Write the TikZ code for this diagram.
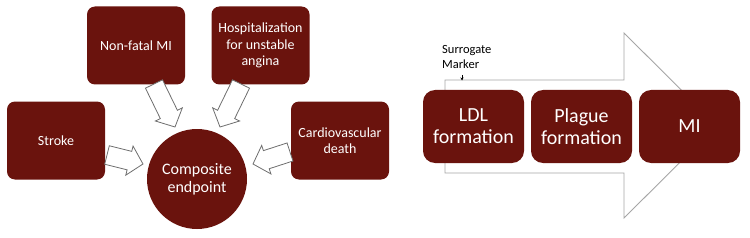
\documentclass[tikz,border=0pt]{standalone}
\usepackage{fontspec}
\setmainfont{Carlito}
\usetikzlibrary{calc,arrows.meta}
\definecolor{boxred}{HTML}{6A130D}
\definecolor{arrgray}{HTML}{6E6E6E}
\definecolor{biggray}{HTML}{A6A6A6}
\tikzset{
  lbox/.style={fill=boxred, rounded corners=8pt, minimum width=98pt, minimum height=78pt,
    text=white, align=center, font=\fontsize{14}{16.5}\selectfont, inner sep=0pt},
  rbox/.style={fill=boxred, rounded corners=12pt, minimum width=101pt, minimum height=73pt,
    text=white, align=center, font=\fontsize{20}{22}\selectfont, inner sep=0pt},
  endcircle/.style={circle, fill=boxred, minimum size=100pt, text=white, align=center,
    font=\fontsize{16}{18}\selectfont, inner sep=0pt},
  blockarr/.style={draw=arrgray, fill=white, line width=0.8pt, line join=miter},
  bigarr/.style={draw=biggray, fill=white, line width=0.9pt},
  notetext/.style={anchor=north west, inner sep=0pt, align=left, text=black,
    font=\fontsize{12.5}{15}\selectfont},
}
\newcommand\blockarrow[2]{%
  \coordinate (ba-n) at ($(#2)!14pt!(#1)$);
  \draw[blockarr] ($(#1)!9.5pt!90:(#2)$) -- ($(ba-n)!9.5pt!90:(#2)$) -- ($(ba-n)!15pt!90:(#2)$)
    -- (#2) -- ($(ba-n)!15pt!-90:(#2)$) -- ($(ba-n)!9.5pt!-90:(#2)$)
    -- ($(#1)!9.5pt!-90:(#2)$) -- cycle;}
\begin{document}
\begin{tikzpicture}[x=1pt,y=-1pt]
\useasboundingbox (0,0) rectangle (750,238);
% left: composite endpoint
\node[lbox] (nfmi) at (136,45.5) {Non-fatal MI};
\node[lbox] (hosp) at (260.5,45.5) {Hospitalization\\for unstable\\angina};
\node[lbox] (stroke) at (56,140.5) {Stroke};
\node[lbox] (cvd) at (340,140.5) {Cardiovascular\\death};
\node[endcircle] (comp) at (197,179) {Composite\\endpoint};
\coordinate (a1t) at (154,84);  \coordinate (a1h) at (175,127);
\coordinate (a2t) at (241,84);  \coordinate (a2h) at (220,127);
\coordinate (a3t) at (107,155); \coordinate (a3h) at (143,164);
\coordinate (a4t) at (290,152); \coordinate (a4h) at (253,164);
\blockarrow{a1t}{a1h}
\blockarrow{a2t}{a2h}
\blockarrow{a3t}{a3h}
\blockarrow{a4t}{a4h}
% right: causal pathway
\draw[bigarr] (445,80) -- (624,80) -- (624,33) -- (717,125.5) -- (624,218) -- (624,173) -- (445,173) -- cycle;
\node[rbox] (ldl) at (473.5,126.5) {LDL\\formation};
\node[rbox] (plague) at (581.5,126.5) {Plague\\formation};
\node[rbox] (mi) at (689.5,126.5) {MI};
\node[notetext] (surr) at (442,45) {Surrogate\\Marker};
\coordinate (smt) at (462,75);
\coordinate (smh) at (462,80.5);
\draw[-{Stealth[length=3pt,width=3pt]}, line width=0.6pt] (smt) -- (smh);
\end{tikzpicture}
\end{document}
